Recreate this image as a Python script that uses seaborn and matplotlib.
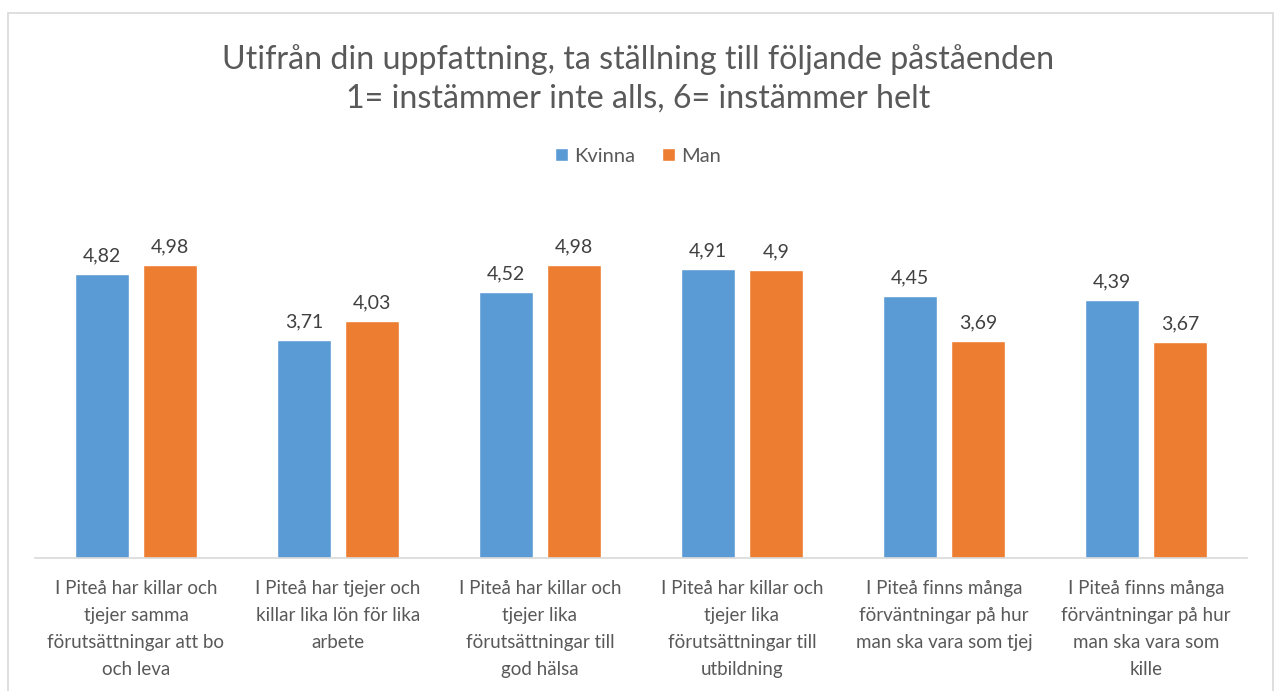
import matplotlib
matplotlib.use("Agg")
import matplotlib.pyplot as plt
import seaborn as sns
import pandas as pd
from matplotlib.patches import Rectangle

categories = [
    "I Piteå har killar och\ntjejer samma\nförutsättningar att bo\noch leva",
    "I Piteå har tjejer och\nkillar lika lön för lika\narbete",
    "I Piteå har killar och\ntjejer lika\nförutsättningar till\ngod hälsa",
    "I Piteå har killar och\ntjejer lika\nförutsättningar till\nutbildning",
    "I Piteå finns många\nförväntningar på hur\nman ska vara som tjej",
    "I Piteå finns många\nförväntningar på hur\nman ska vara som\nkille",
]
kvinna = [4.82, 3.71, 4.52, 4.91, 4.45, 4.39]
man = [4.98, 4.03, 4.98, 4.90, 3.69, 3.67]
series = ["Kvinna", "Man"]
colors = ["#5B9BD5", "#ED7D31"]

df = pd.DataFrame({
    "cat": categories * 2,
    "val": kvinna + man,
    "grp": [series[0]] * len(kvinna) + [series[1]] * len(man),
})

sns.set_theme(style="white")
plt.rcParams["font.family"] = ["Lato", "DejaVu Sans"]

fig = plt.figure(figsize=(12.76, 6.91), dpi=100)
ax = fig.add_axes([35/1276, 133/691, (1247-35)/1276, (558-205)/691])

sns.barplot(data=df, x="cat", y="val", hue="grp", palette=colors,
            width=0.67, gap=0.2, ax=ax, saturation=1, errorbar=None, legend=True)

ax.set_ylim(0, 6)
ax.set_xlim(-0.5, len(categories) - 0.5)
ax.set_xlabel("")
ax.set_ylabel("")
ax.set_yticks([])
for s in ["top", "right", "left"]:
    ax.spines[s].set_visible(False)
ax.spines["bottom"].set_color("#D9D9D9")
ax.spines["bottom"].set_linewidth(1.2)
ax.tick_params(axis="x", length=0, pad=16, labelsize=13.5, labelcolor="#595959")
for lab in ax.get_xticklabels():
    lab.set_linespacing(1.70)

for cont in ax.containers:
    labels = [f"{v:g}".replace(".", ",") for v in cont.datavalues]
    ax.bar_label(cont, labels=labels, padding=7, fontsize=14, color="#404040")

handles, labs = ax.get_legend_handles_labels()
ax.legend(handles, labs, loc="center", bbox_to_anchor=(0.5, 1 - 156/691),
          bbox_transform=fig.transFigure, ncol=2, frameon=False,
          handlelength=0.65, handleheight=0.65, handletextpad=0.3, columnspacing=1.3,
          prop={"size": 14.5}, labelcolor="#595959")

fig.text(0.5, 1 - 60/691, "Utifrån din uppfattning, ta ställning till följande påståenden",
         ha="center", va="center", fontsize=23.2, color="#595959")
fig.text(0.5, 1 - 99/691, "1= instämmer inte alls, 6= instämmer helt",
         ha="center", va="center", fontsize=23.2, color="#595959")

fig.patches.append(Rectangle((8/1276, -0.02), (1273-8)/1276, (691-13)/691 + 0.02,
                             transform=fig.transFigure, fill=False,
                             edgecolor="#D9D9D9", linewidth=1.2))

fig.savefig("out.png", dpi=100, facecolor="white")
